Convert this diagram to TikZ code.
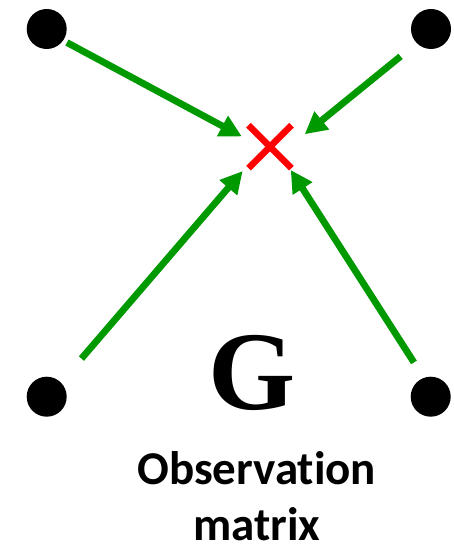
\documentclass[tikz,border=0pt]{standalone}
\usepackage{fontspec}
\newfontfamily\labelfont[Ligatures=NoCommon]{Carlito}
\newfontfamily\letterfont{Liberation Serif}
\usetikzlibrary{arrows.meta}
\definecolor{arrowGreen}{RGB}{0,153,0}
\definecolor{crossRed}{RGB}{255,0,0}

\begin{document}
\begin{tikzpicture}[x=1pt,y=-1pt,
    dot/.style={circle,fill=black,minimum size=40pt,inner sep=0pt,outer sep=0pt},
    target/.style={circle,minimum size=60pt,inner sep=0pt,outer sep=0pt},
    cross/.style={draw=crossRed,line width=6.5pt},
    pull/.style={draw=arrowGreen,line width=6.8pt,-{Triangle[length=22pt,width=22pt]}}
  ]
  \path[use as bounding box] (0,0) rectangle (453,548);

  % the four points
  \node[dot] (tl) at (46.7,29) {};
  \node[dot] (tr) at (431,29) {};
  \node[dot] (bl) at (46.7,396.7) {};
  \node[dot] (br) at (430.7,396.7) {};

  % the red cross
  \node[target] (x) at (270,146.7) {};
  \draw[cross] (x.center) +(-21.5,-21.5) -- +(21.5,21.5);
  \draw[cross] (x.center) +(21.5,-21.5) -- +(-21.5,21.5);

  % green arrows towards the cross
  \draw[pull,shorten <=4.4pt] (tl.-35) -- (x.160);
  \draw[pull,shorten <=21pt,shorten >=7.4pt] (tr.225) -- (x.15);
  \draw[pull,shorten <=31.6pt,shorten >=6.7pt] (bl.45) -- (x.220);
  \draw[pull,shorten <=18.4pt,shorten >=1.2pt] (br.110) -- (x.312);

  \node[font=\letterfont\bfseries\fontsize{112}{112}\selectfont,inner sep=0pt]
    (g) at (252,373) {G};
  \node[font=\labelfont\bfseries\fontsize{47}{56}\selectfont,align=center,
        inner sep=0pt,text depth=0pt,anchor=south]
    (label) at (256.7,541) {Observation\\matrix};
\end{tikzpicture}
\end{document}
